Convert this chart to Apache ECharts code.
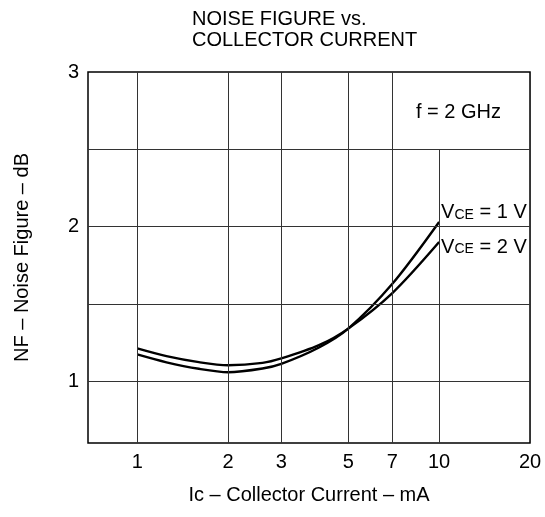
<!DOCTYPE html>
<html>
<head>
<meta charset="utf-8">
<script src="https://cdn.jsdelivr.net/npm/echarts@6/dist/echarts.min.js"></script>
<style>
  html, body { margin: 0; padding: 0; background: #fff; }
  #chart { width: 545px; height: 517px; }
</style>
</head>
<body>
<div id="chart"></div>
<script>
// collector current (mA) and noise figure (dB)
const currents = [1, 1.25, 1.6, 2, 2.6, 3, 4, 5, 7, 10]
const nfVce1 = [1.173, 1.122, 1.08, 1.058, 1.082, 1.112, 1.218, 1.34, 1.63, 2.03]
const nfVce2 = [1.212, 1.162, 1.123, 1.103, 1.118, 1.147, 1.233, 1.34, 1.57, 1.9]
const xTicks = [1, 2, 3, 5, 7, 10, 20]
const yTicks = [1, 2, 3]
const yGrid = [1, 1.5, 2, 2.5]
const xMin = 0.687
const xMax = 20.0001
const yMin = 0.6
const yMax = 3

const font = 'Liberation Sans, Arial, sans-serif'
const gridColor = '#333'
const fs = 20

// vertical grid lines with the tick labels under them
// (10 mA stops below the f = 2 GHz box, 20 mA sits on the frame)
const vLines = xTicks.map((x) => {
  const top = x === 10 ? 2.5 : yMax
  return [
    { coord: [x, yMin], label: { show: true, formatter: String(x) } },
    { coord: [x, top] }
  ]
})
const hLines = yGrid.map((y) => [
  { coord: [xMin, y], label: { show: false } },
  { coord: [xMax, y] }
])

const vceLabel = (v) => '{a|V}{s|CE}{a| = ' + v + ' V}'
const rich = {
  a: { fontSize: fs, fontFamily: font, color: '#000', verticalAlign: 'bottom' },
  s: { fontSize: 14, fontFamily: font, color: '#000', verticalAlign: 'bottom', padding: [0, 0, 1, 0] }
}

const option = {
  animation: false,
  title: {
    text: 'NOISE FIGURE vs.\nCOLLECTOR CURRENT',
    left: 187,
    top: 4,
    textStyle: { fontSize: fs, fontWeight: 'normal', color: '#000', lineHeight: 21, fontFamily: font }
  },
  grid: {
    left: 88,
    right: 15,
    top: 72,
    bottom: 74,
    show: true,
    borderColor: '#000',
    borderWidth: 1.5
  },
  graphic: [
    {
      type: 'text',
      left: 416,
      top: 102,
      style: { text: 'f = 2 GHz', fontSize: fs, fontFamily: font, fill: '#000' }
    }
  ],
  xAxis: {
    type: 'log',
    logBase: 10,
    min: xMin,
    max: xMax,
    name: 'Ic – Collector Current – mA',
    nameLocation: 'middle',
    nameGap: 42,
    nameTextStyle: { fontSize: fs, fontFamily: font, color: '#000' },
    axisLine: { show: false },
    axisTick: { show: false },
    axisLabel: { show: false },
    splitLine: { show: false }
  },
  yAxis: {
    type: 'value',
    min: yMin,
    max: yMax,
    name: 'NF – Noise Figure – dB',
    nameLocation: 'middle',
    nameGap: 56,
    nameTextStyle: { fontSize: fs, fontFamily: font, color: '#000' },
    axisLine: { show: false },
    axisTick: { show: false },
    axisLabel: { customValues: yTicks, fontSize: fs, fontFamily: font, color: '#000', margin: 9 },
    splitLine: { show: false }
  },
  series: [
    {
      name: 'VCE = 2 V',
      type: 'line',
      data: currents.map((c, i) => [c, nfVce2[i]]),
      smooth: 0.3,
      symbol: 'none',
      lineStyle: { color: '#000', width: 2.4 },
      endLabel: { show: true, formatter: vceLabel(2), rich: rich, distance: 2, offset: [0, 5] },
      markLine: {
        silent: true,
        symbol: ['none', 'none'],
        lineStyle: { color: gridColor, width: 1, type: 'solid' },
        label: { position: 'start', distance: 9, fontSize: fs, fontFamily: font, color: '#000' },
        data: vLines.concat(hLines)
      }
    },
    {
      name: 'VCE = 1 V',
      type: 'line',
      data: currents.map((c, i) => [c, nfVce1[i]]),
      smooth: 0.3,
      symbol: 'none',
      lineStyle: { color: '#000', width: 2.4 },
      endLabel: { show: true, formatter: vceLabel(1), rich: rich, distance: 2, offset: [0, -9] }
    }
  ]
}

const myChart = echarts.init(document.getElementById('chart'))
myChart.setOption(option)
</script>
</body>
</html>
